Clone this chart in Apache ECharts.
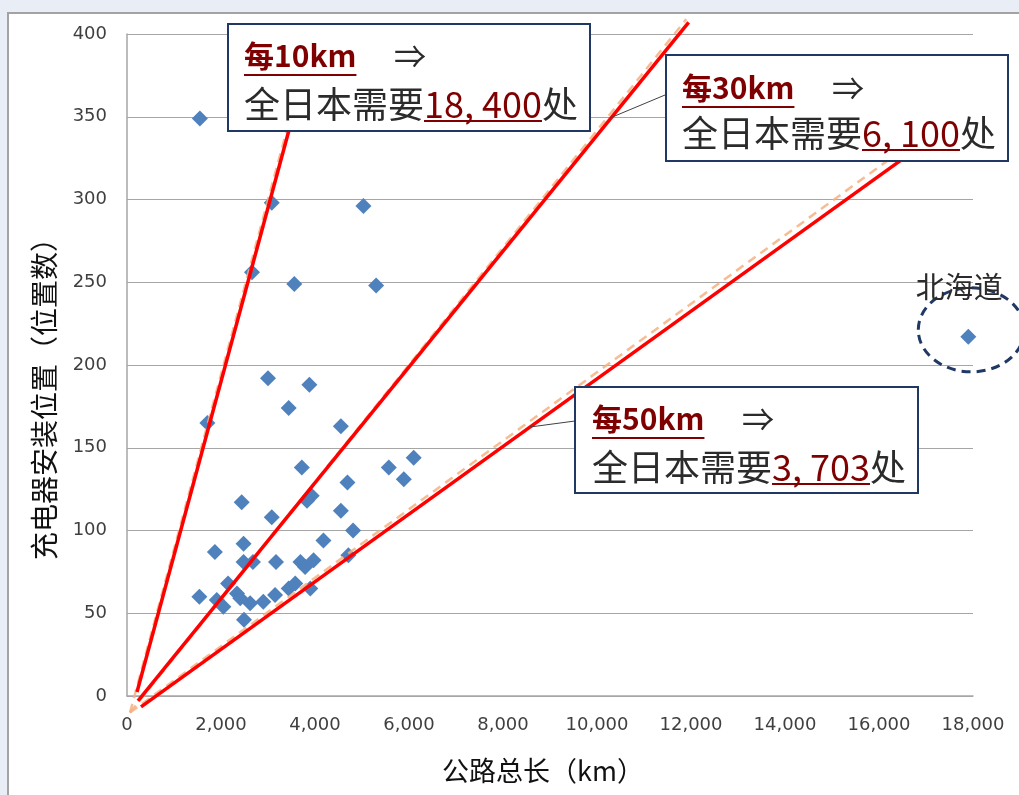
<!DOCTYPE html>
<html>
<head>
<meta charset="utf-8">
<script src="https://cdn.jsdelivr.net/npm/echarts@6.0.0/dist/echarts.min.js"></script>
<style>
  html, body { margin: 0; padding: 0; width: 1019px; height: 795px; overflow: hidden; background: #e9edf6; }
  #panel { position: absolute; left: 7px; top: 12px; width: 1100px; height: 900px; background: #fff;
           border: 2px solid #a3a3a3; box-sizing: border-box; }
  #chart { position: absolute; left: 0; top: 0; width: 1019px; height: 795px; }
</style>
</head>
<body>
<div id="panel"></div>
<div id="chart"></div>
<script>
// Road length (km) and charger installation sites, one point per prefecture
const roadLengthKm = [1550, 1710, 3080, 5030, 2660, 3560, 5300, 3000, 3880, 3440,
                      4550, 3720, 5570, 6100, 5890, 4690, 3930, 3830, 2440, 3080,
                      4550, 4810, 4180, 2480, 1870, 4710, 2480, 2680, 3170, 3690,
                      3790, 3970, 2150, 2340, 2410, 1540, 1910, 2050, 2620, 2900,
                      3150, 3440, 3580, 3900, 2490];
const chargerSites = [349, 165, 298, 296, 256, 249, 248, 192, 188, 174,
                      163, 138, 138, 144, 131, 129, 121, 118, 117, 108,
                      112, 100, 94, 92, 87, 85, 81, 81, 81, 81,
                      78, 82, 68, 62, 59, 60, 58, 54, 56, 57,
                      61, 65, 68, 65, 46];
const hokkaidoName = '北海道';
const hokkaidoPoint = [17900, 217];

// Axis ticks
const xTickValues = [0, 2000, 4000, 6000, 8000, 10000, 12000, 14000, 16000, 18000];
const yTickValues = [0, 50, 100, 150, 200, 250, 300, 350, 400];

// One charger every N km
const spacingKm = [10, 30, 50];
// Dashed trend lines, start and end in data units
const trendStartX = [64, 64, 64];
const trendStartY = [-10, -10, -10];
const trendEndX = [3950, 11900, 17800];
const trendEndY = [400, 409, 357];
// Hand-drawn guide segments, start and end in data units
const guideStartX = [213, 234, 298];
const guideStartY = [2.4, -3, -6.6];
const guideEndX = [4000, 11950, 17800];
const guideEndY = [400, 407, 351];

// Callout texts
const calloutHead = ['每10km', '每30km', '每50km'];
const calloutPrefix = '全日本需要';
const calloutTotal = ['18, 400', '6, 100', '3, 703'];
const calloutSuffix = '处';
const arrowText = '⇒';

const xTitle = '公路总长（km）';
const yTitle = '充电器安装位置（位置数）';

// ---- layout & style ----
const CJK = '"Noto Sans CJK SC", "Noto Sans CJK JP", sans-serif';
const boxLayout = [
  { x: 228, y: 24, w: 362, h: 107, tx: 244, y1: 56, y2: 104 },
  { x: 666, y: 55, w: 342, h: 106, tx: 682, y1: 88, y2: 133 },
  { x: 575, y: 387, w: 343, h: 106, tx: 592, y1: 419, y2: 467 }
];
const leaderLines = [null, [665, 95, 610, 118], [575, 421, 530, 427]];
const headFont = 'bold 30px ' + CJK;
const bodyFont = 'normal 36px ' + CJK;
const darkRed = '#7f0000';
const textDark = '#2b2b2b';

const measureCtx = document.createElement('canvas').getContext('2d');
function textWidth(str, font) { measureCtx.font = font; return measureCtx.measureText(str).width; }

const scatterData = roadLengthKm.map((x, i) => [x, chargerSites[i]]);
scatterData.push(hokkaidoPoint);

const trendSeries = spacingKm.map((km, i) => ({
  type: 'line',
  name: '每' + km + 'km',
  data: [[trendStartX[i], trendStartY[i]], [trendEndX[i], trendEndY[i]]],
  symbol: 'none',
  clip: false,
  silent: true,
  lineStyle: { color: '#f4b183', width: 2.5, type: [9, 6], opacity: 0.85 }
}));
const guideSeries = spacingKm.map((km, i) => ({
  type: 'line',
  data: [[guideStartX[i], guideStartY[i]], [guideEndX[i], guideEndY[i]]],
  symbol: 'none',
  clip: false,
  silent: true,
  lineStyle: { color: '#ff0000', width: 3.5 }
}));

const chart = echarts.init(document.getElementById('chart'), null, { renderer: 'canvas' });

chart.setOption({
  backgroundColor: 'transparent',
  animation: false,
  grid: { left: 127, right: 46, top: 34, bottom: 99 },
  xAxis: {
    type: 'value',
    min: xTickValues[0], max: xTickValues[xTickValues.length - 1],
    interval: xTickValues[1] - xTickValues[0],
    axisLine: { show: true, lineStyle: { color: '#a6a6a6', width: 1.5 } },
    axisTick: { show: false },
    splitLine: { show: false },
    axisLabel: {
      margin: 20, fontSize: 18, fontFamily: 'DejaVu Sans', color: '#3f3f3f',
      formatter: v => v.toLocaleString('en-US')
    }
  },
  yAxis: {
    type: 'value',
    min: yTickValues[0], max: yTickValues[yTickValues.length - 1],
    interval: yTickValues[1] - yTickValues[0],
    axisLine: { show: true, lineStyle: { color: '#a6a6a6', width: 1.5 } },
    axisTick: { show: false },
    splitLine: { show: true, lineStyle: { color: '#a6a6a6', width: 1.2 } },
    axisLabel: { margin: 20, fontSize: 18, fontFamily: 'DejaVu Sans', color: '#3f3f3f' }
  },
  series: [
    ...trendSeries,
    {
      type: 'scatter',
      data: scatterData,
      symbol: 'diamond',
      symbolSize: 16,
      itemStyle: { color: '#4f81bd', opacity: 1 }
    },
    ...guideSeries
  ]
});

// Callouts, titles and the Hokkaido marker ring
const graphics = [];
boxLayout.forEach((b, i) => {
  graphics.push({
    type: 'rect', z: 100,
    shape: { x: b.x, y: b.y, width: b.w, height: b.h },
    style: { fill: '#ffffff', stroke: '#1f3864', lineWidth: 2 }
  });
  if (leaderLines[i]) {
    const L = leaderLines[i];
    graphics.push({
      type: 'line', z: 99,
      shape: { x1: L[0], y1: L[1], x2: L[2], y2: L[3] },
      style: { stroke: '#404040', lineWidth: 1 }
    });
  }
  // first line: spacing and arrow
  const headW = textWidth(calloutHead[i], headFont);
  graphics.push({
    type: 'text', z: 101, x: b.tx, y: b.y1,
    style: { text: calloutHead[i], font: headFont, fill: darkRed, align: 'left', verticalAlign: 'middle' }
  });
  graphics.push({
    type: 'line', z: 101,
    shape: { x1: b.tx, y1: b.y1 + 19, x2: b.tx + headW, y2: b.y1 + 19 },
    style: { stroke: darkRed, lineWidth: 2 }
  });
  graphics.push({
    type: 'text', z: 101, x: b.tx + 150, y: b.y1,
    style: { text: arrowText, font: 'normal 32px ' + CJK, fill: textDark, align: 'left', verticalAlign: 'middle' }
  });
  // second line: nationwide total
  const preW = textWidth(calloutPrefix, bodyFont);
  const numW = textWidth(calloutTotal[i], bodyFont);
  graphics.push({
    type: 'text', z: 101, x: b.tx, y: b.y2,
    style: { text: calloutPrefix, font: bodyFont, fill: textDark, align: 'left', verticalAlign: 'middle' }
  });
  graphics.push({
    type: 'text', z: 101, x: b.tx + preW, y: b.y2,
    style: { text: calloutTotal[i], font: bodyFont, fill: darkRed, align: 'left', verticalAlign: 'middle' }
  });
  graphics.push({
    type: 'line', z: 101,
    shape: { x1: b.tx + preW, y1: b.y2 + 17, x2: b.tx + preW + numW, y2: b.y2 + 17 },
    style: { stroke: darkRed, lineWidth: 2 }
  });
  graphics.push({
    type: 'text', z: 101, x: b.tx + preW + numW, y: b.y2,
    style: { text: calloutSuffix, font: bodyFont, fill: textDark, align: 'left', verticalAlign: 'middle' }
  });
});

const hp = chart.convertToPixel({ gridIndex: 0 }, hokkaidoPoint);
graphics.push({
  type: 'ellipse', z: 90,
  shape: { cx: hp[0] + 3, cy: hp[1] - 7, rx: 53, ry: 42 },
  style: { fill: null, stroke: '#1f3864', lineWidth: 3, lineDash: [9, 6] }
});
graphics.push({
  type: 'text', z: 101, x: hp[0] - 9, y: hp[1] - 50,
  style: { text: hokkaidoName, font: 'normal 29px ' + CJK, fill: textDark, align: 'center', verticalAlign: 'middle' }
});

graphics.push({
  type: 'text', z: 101, x: 543, y: 771,
  style: { text: xTitle, font: 'normal 27px ' + CJK, fill: '#111111', align: 'center', verticalAlign: 'middle' }
});
graphics.push({
  type: 'text', z: 101, x: 44, y: 392, rotation: Math.PI / 2,
  style: { text: yTitle, font: 'normal 28px ' + CJK, fill: '#111111', align: 'center', verticalAlign: 'middle' }
});

chart.setOption({ graphic: graphics });
</script>
</body>
</html>
